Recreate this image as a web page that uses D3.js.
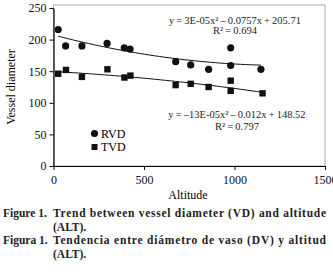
<!DOCTYPE html>
<html lang="en">
<head>
<meta charset="UTF-8">
<title>Vessel diameter vs altitude</title>
<style>
    body { margin: 0; background: #fff; }
    svg text { font-family: "Liberation Serif", "Times New Roman", Times, "DejaVu Serif", serif; }
</style>
</head>
<body>
<div id="chart"></div>
<script src="https://d3js.org/d3.v7.min.js"></script>
<script>
    // data
    const rvdAlt = [26, 67, 157, 296, 391, 423, 675, 758, 857, 979, 979, 1146];
    const rvdVal = [216, 190, 190, 194, 187, 185, 165, 160, 153, 187, 159, 153];
    const tvdAlt = [26, 69, 157, 298, 392, 425, 675, 758, 857, 979, 979, 1155];
    const tvdVal = [146, 152, 141, 153, 140, 143, 128, 130, 125, 135, 119, 115];
    const xTicks = [0, 500, 1000, 1500];
    const yTicks = [0, 50, 100, 150, 200, 250];
    const seriesNames = ["RVD", "TVD"];
    const eqLabels = [
        ["y\u2009=\u20093E-05x\u00b2\u2009\u2013\u20090.0757x\u2009+\u2009205.71", "R\u00b2\u2009=\u20090.694"],
        ["y\u2009=\u2009\u201313E-05x\u00b2\u2009\u2013\u20090.012x\u2009+\u2009148.52", "R\u00b2\u2009=\u20090.797"]
    ];

    const W = 333, H = 273;
    const svg = d3.select("#chart").append("svg").attr("width", W).attr("height", H);

    const x = d3.scaleLinear().domain([0, 1500]).range([53.5, 325]);
    const y = d3.scaleLinear().domain([0, 250]).range([166, 8]);

    // plot frame (light grey)
    svg.append("rect")
        .attr("x", x(0)).attr("y", 5)
        .attr("width", x(1500) - x(0)).attr("height", y(0) - 5)
        .attr("fill", "none").attr("stroke", "#aaa").attr("stroke-width", 1);

    // axes
    const yAxis = svg.append("g").attr("transform", `translate(${x(0)},0)`)
        .call(d3.axisLeft(y).tickValues(yTicks).tickFormat(d3.format("d")).tickSize(4).tickSizeOuter(0));
    const xAxis = svg.append("g").attr("transform", `translate(0,${y(0)})`)
        .call(d3.axisBottom(x).tickValues(xTicks).tickFormat(d3.format("d")).tickSize(4).tickSizeOuter(0));
    [xAxis, yAxis].forEach(a => {
        a.attr("font-family", null);
        a.select(".domain").attr("stroke", "#000").attr("stroke-width", 1.2);
        a.selectAll("text").attr("font-size", 12).attr("fill", "#111");
    });
    yAxis.selectAll("text").attr("x", -7);
    xAxis.selectAll("text").attr("y", 9);

    // axis titles
    svg.append("text").attr("transform", "translate(15,87) rotate(-90)")
        .attr("text-anchor", "middle").attr("font-size", 12).text("Vessel diameter");
    svg.append("text").attr("x", 188).attr("y", 199)
        .attr("text-anchor", "middle").attr("font-size", 12).text("Altitude");

    // quadratic least squares fit
    function quadFit(xs, ys) {
        const n = xs.length;
        let s = [0, 0, 0, 0, 0], t = [0, 0, 0];
        for (let i = 0; i < n; i++) {
            let p = 1;
            for (let k = 0; k < 5; k++) { s[k] += p; if (k < 3) t[k] += p * ys[i]; p *= xs[i]; }
        }
        const A = [[s[0], s[1], s[2], t[0]], [s[1], s[2], s[3], t[1]], [s[2], s[3], s[4], t[2]]];
        for (let i = 0; i < 3; i++) {
            for (let j = i + 1; j < 3; j++) {
                const f = A[j][i] / A[i][i];
                for (let k = i; k < 4; k++) A[j][k] -= f * A[i][k];
            }
        }
        const c = [0, 0, 0];
        for (let i = 2; i >= 0; i--) {
            let v = A[i][3];
            for (let k = i + 1; k < 3; k++) v -= A[i][k] * c[k];
            c[i] = v / A[i][i];
        }
        return v => c[0] + c[1] * v + c[2] * v * v;
    }

    const series = [
        { alt: rvdAlt, val: rvdVal, shape: "circle" },
        { alt: tvdAlt, val: tvdVal, shape: "square" }
    ];

    series.forEach(s => {
        const f = quadFit(s.alt, s.val);
        const xs = d3.range(0, 41).map(i => d3.min(s.alt) + (d3.max(s.alt) - d3.min(s.alt)) * i / 40);
        svg.append("path")
            .attr("d", d3.line().x(d => x(d)).y(d => y(f(d)))(xs))
            .attr("fill", "none").attr("stroke", "#111").attr("stroke-width", 1);

        const pts = s.alt.map((a, i) => ({ a: a, v: s.val[i] }));
        if (s.shape === "circle") {
            svg.selectAll(null).data(pts).enter().append("circle")
                .attr("cx", d => x(d.a)).attr("cy", d => y(d.v)).attr("r", 3.6).attr("fill", "#111");
        } else {
            svg.selectAll(null).data(pts).enter().append("rect")
                .attr("x", d => x(d.a) - 3.2).attr("y", d => y(d.v) - 3.2)
                .attr("width", 6.4).attr("height", 6.4).attr("fill", "#111");
        }
    });

    // equations
    const eqPos = [[235, 24, 34], [237, 118, 130]];
    eqLabels.forEach((lines, i) => {
        lines.forEach((t, j) => {
            svg.append("text").attr("x", eqPos[i][0]).attr("y", eqPos[i][1 + j])
                .attr("text-anchor", "middle").attr("font-size", 10.5).attr("fill", "#222").text(t);
        });
    });

    // legend
    svg.append("circle").attr("cx", 94.5).attr("cy", 133.5).attr("r", 3.6).attr("fill", "#111");
    svg.append("rect").attr("x", 91.5).attr("y", 144).attr("width", 6).attr("height", 6).attr("fill", "#111");
    svg.append("text").attr("x", 101).attr("y", 138).attr("font-size", 12).text(seriesNames[0]);
    svg.append("text").attr("x", 101).attr("y", 151).attr("font-size", 12).text(seriesNames[1]);

    // caption
    const cap = svg.append("g").attr("font-weight", "bold").attr("font-size", 11.5).attr("fill", "#222");
    cap.append("text").attr("x", 3).attr("y", 217).text("Figure 1.");
    cap.append("text").attr("x", 53).attr("y", 217).attr("textLength", 273).attr("lengthAdjust", "spacing")
        .text("Trend between vessel diameter (VD) and altitude");
    cap.append("text").attr("x", 53).attr("y", 231).text("(ALT).");
    cap.append("text").attr("x", 3).attr("y", 244).text("Figura 1.");
    cap.append("text").attr("x", 53).attr("y", 244).attr("textLength", 273).attr("lengthAdjust", "spacing")
        .text("Tendencia entre di\u00e1metro de vaso (DV) y altitud");
    cap.append("text").attr("x", 53).attr("y", 258).text("(ALT).");
</script>
</body>
</html>
